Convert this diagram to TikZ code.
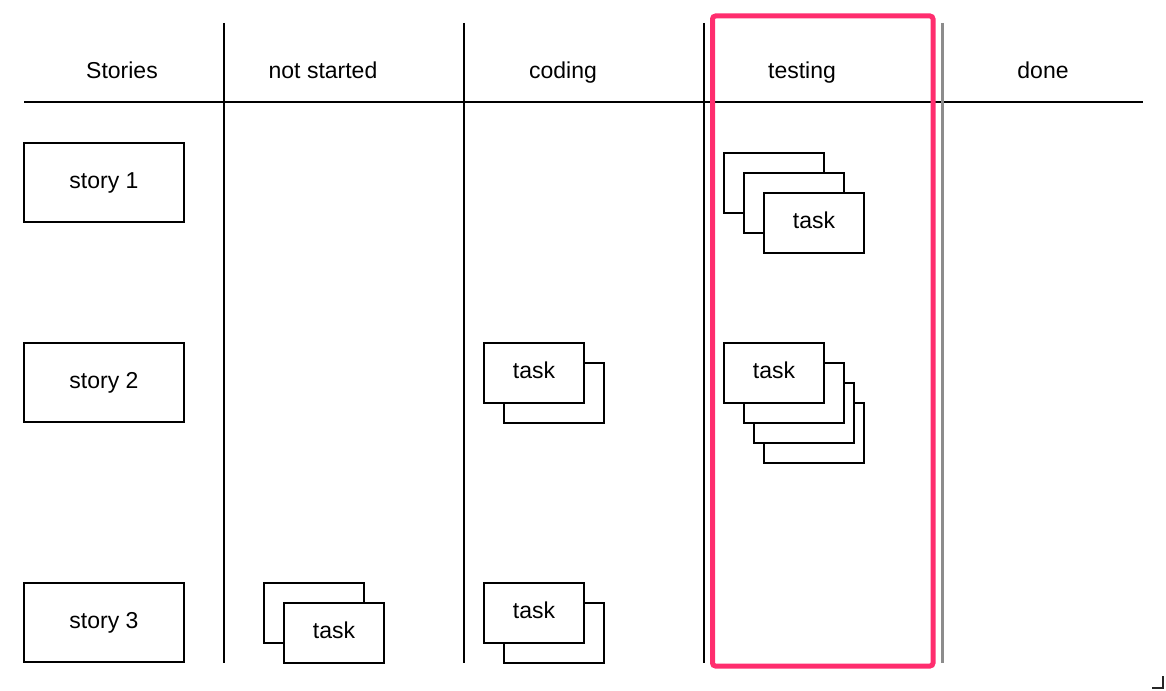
\documentclass[tikz,border=0pt]{standalone}
\usepackage{fontspec}
\setmainfont{Liberation Sans}
\definecolor{hl}{HTML}{FF2D6E}
\definecolor{sep}{HTML}{8C8C8C}
\begin{document}
\begin{tikzpicture}[x=1pt,y=-1pt,
  every node/.style={font=\fontsize{23}{27}\selectfont},
  header/.style={inner sep=0pt, text height=16pt, text depth=5pt},
  story/.style={draw, line width=2pt, fill=white, minimum width=160pt, minimum height=79pt, inner sep=0pt, text height=16pt, text depth=5pt},
  task/.style={draw, line width=2pt, fill=white, minimum width=100pt, minimum height=60pt, inner sep=0pt, text height=16pt, text depth=5pt},
  rule/.style={line width=2pt},
]
\useasboundingbox (0,0) rectangle (1166,690);

% grid
\coordinate (hl) at (24,102);
\coordinate (hr) at (1143,102);
\draw[rule] (hl) -- (hr);
\foreach \x/\n in {224/a,464/b,704/c}{
  \coordinate (\n t) at (\x,23);
  \coordinate (\n b) at (\x,663);
  \draw[rule] (\n t) -- (\n b);
}
\coordinate (dt) at (942,23);
\coordinate (db) at (942,663);
\draw[line width=3pt, sep] (dt) -- (db);

% headers
\node[header] (h0) at (122,73) {Stories};
\node[header] (h1) at (323,73) {not started};
\node[header] (h2) at (563,73) {coding};
\node[header] (h3) at (802,73) {testing};
\node[header] (h4) at (1043,73) {done};

% stories
\node[story] (s1) at (104,182.5) {story 1};
\node[story] (s2) at (104,382.5) {story 2};
\node[story] (s3) at (104,622.5) {story 3};

% testing, row 1
\node[task] (t1a) at (774,183) {};
\node[task] (t1b) at (794,203) {};
\node[task] (t1c) at (814,223) {task};

% testing, row 2
\node[task] (t2d) at (814,433) {};
\node[task] (t2c) at (804,413) {};
\node[task] (t2b) at (794,393) {};
\node[task] (t2a) at (774,373) {task};

% coding, row 2
\node[task] (c2b) at (554,393) {};
\node[task] (c2a) at (534,373) {task};

% coding, row 3
\node[task] (c3b) at (554,633) {};
\node[task] (c3a) at (534,613) {task};

% not started, row 3
\node[task] (n3a) at (314,613) {};
\node[task] (n3b) at (334,633) {task};

% highlight
\draw[hl, line width=5pt, rounded corners=3pt] (712.5,16) rectangle (933,666);

% corner mark
\coordinate (k1) at (1152,688);
\coordinate (k2) at (1163,688);
\coordinate (k3) at (1163,676);
\draw[line width=1.5pt, black!85] (k1) -- (k2) -- (k3);
\end{tikzpicture}
\end{document}
